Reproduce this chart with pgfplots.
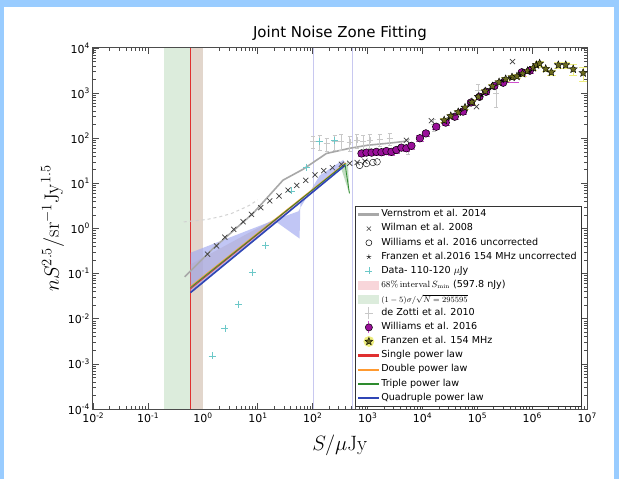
\documentclass[border=0pt]{standalone}
\usepackage[no-math]{fontspec}
\setmainfont{DejaVu Sans}
\usepackage{pgfplots}
\pgfplotsset{compat=1.18}
\definecolor{bgblue}{HTML}{99CCFF}
\definecolor{bandgreen}{HTML}{DCECDC}
\definecolor{bandtan}{HTML}{E2D6CC}
\definecolor{bandpink}{HTML}{F8D6DA}
\definecolor{lav}{HTML}{C8C8F0}
\definecolor{vgray}{HTML}{A8A8A8}
\definecolor{cyanpt}{HTML}{6CC8C8}
\definecolor{zgray}{HTML}{C8C8C8}
\definecolor{wpurp}{HTML}{9A109A}
\definecolor{wmag}{HTML}{D050D0}
\definecolor{folive}{HTML}{6B6B1E}
\definecolor{fyel}{HTML}{EEEE80}
\definecolor{plred}{HTML}{E03030}
\definecolor{plorange}{HTML}{FF9A30}
\definecolor{plgreen}{HTML}{2E8B2E}
\definecolor{plblue}{HTML}{2F45B5}
\definecolor{fillblue}{HTML}{A0A8F0}
\pgfdeclareplotmark{fstar}{%
  \pgfpathmoveto{\pgfpointpolar{90}{\pgfplotmarksize}}%
  \pgfpathlineto{\pgfpointpolar{126}{0.45\pgfplotmarksize}}%
  \pgfpathlineto{\pgfpointpolar{162}{\pgfplotmarksize}}%
  \pgfpathlineto{\pgfpointpolar{198}{0.45\pgfplotmarksize}}%
  \pgfpathlineto{\pgfpointpolar{234}{\pgfplotmarksize}}%
  \pgfpathlineto{\pgfpointpolar{270}{0.45\pgfplotmarksize}}%
  \pgfpathlineto{\pgfpointpolar{306}{\pgfplotmarksize}}%
  \pgfpathlineto{\pgfpointpolar{342}{0.45\pgfplotmarksize}}%
  \pgfpathlineto{\pgfpointpolar{18}{\pgfplotmarksize}}%
  \pgfpathlineto{\pgfpointpolar{54}{0.45\pgfplotmarksize}}%
  \pgfpathclose\pgfusepathqfillstroke}
\newcommand\tl[1]{10\raisebox{0.8ex}{\fontsize{7.5}{8}\selectfont #1}}
\begin{document}
\begin{tikzpicture}
\useasboundingbox (0,0) rectangle (619pt,479pt);
\fill[bgblue] (0,0) rectangle (619pt,479pt);
\fill[white] (4pt,0pt) rectangle (614pt,472pt);
\begin{axis}[
  at={(93pt,70pt)}, anchor=south west,
  scale only axis, width=494pt, height=361pt,
  xmode=log, ymode=log,
  xmin=1e-2, xmax=1e7, ymin=1e-4, ymax=1e4,
  xtick={1e-2,1e-1,1,10,100,1e3,1e4,1e5,1e6,1e7},
  xticklabels={\tl{-2},\tl{-1},\tl{0},\tl{1},\tl{2},\tl{3},\tl{4},\tl{5},\tl{6},\tl{7}},
  ytick={1e-4,1e-3,1e-2,1e-1,1,10,100,1e3,1e4},
  yticklabels={\tl{-4},\tl{-3},\tl{-2},\tl{-1},\tl{0},\tl{1},\tl{2},\tl{3},\tl{4}},
  tick label style={font=\fontsize{11}{13}\selectfont, black},
  tick align=inside,
  major tick length=6pt, minor tick length=3pt,
  every tick/.style={black!70, line width=0.6pt},
  axis line style={black!70, line width=1pt},
  title={Joint Noise Zone Fitting},
  title style={font=\fontsize{15}{17}\selectfont, yshift=-2pt},
  xlabel={$S/\mu\mathrm{Jy}$},
  ylabel={$nS^{2.5}/\mathrm{sr}^{-1}\mathrm{Jy}^{1.5}$},
  label style={font=\fontsize{20}{24}\selectfont},
  xlabel style={yshift=-5pt},
  ylabel style={yshift=-3pt},
  legend style={at={(0.99,0.006)}, anchor=south east,
    font=\fontsize{9.6}{11.5}\selectfont, draw=black!80, line width=0.8pt,
    inner xsep=3pt, inner ysep=1.5pt, row sep=0pt, fill=white,
    nodes={text height=7.3pt, text depth=2.8pt},
    cells={anchor=west}},
  legend image code/.code={\draw[#1] (0pt,0pt) -- (20pt,0pt);},
]
% bands
\addplot[draw=none, fill=bandgreen, forget plot] coordinates {(0.2,1e-4)(0.5978,1e-4)(0.5978,1e4)(0.2,1e4)} -- cycle;
\addplot[draw=none, fill=bandtan, forget plot] coordinates {(0.5978,1e-4)(1.0,1e-4)(1.0,1e4)(0.5978,1e4)} -- cycle;
\addplot[lav, line width=0.8pt, forget plot] coordinates {(105,1e-4)(105,1e4)};
\addplot[lav, line width=0.8pt, forget plot] coordinates {(540,1e-4)(540,1e4)};
\addplot[plred, line width=0.8pt, forget plot] coordinates {(0.5978,1e-4)(0.5978,1e4)};
% fills
\addplot[draw=none, fill=orange!40!gray!60, fill opacity=0.5, forget plot] coordinates {(0.5978,0.04)(0.5978,0.16)(30,2.1)(390,27)(30,1.9)} -- cycle;
\addplot[draw=none, fill=fillblue, fill opacity=0.65, forget plot] coordinates {(0.5978,0.038)(0.5978,0.29)(25,1.7)(55,2.4)(135,15)(360,33)(400,28)(390,25)(60,3.6)(58,0.6)(22,1.39)} -- cycle;
\addplot[draw=none, fill=plgreen!50, fill opacity=0.6, forget plot] coordinates {(330,22)(470,5.8)(440,30)} -- cycle;
% Vernstrom
\addplot[vgray, line width=1.6pt, forget plot] coordinates {(0.47,0.085)(1.54,0.36)(8.2,2.15)(29,11.8)(67,20.5)(179,46)(476,60)(1000,70)(2500,78)(5100,86)};
\addplot[gray!35, dashed, line width=1pt, forget plot] coordinates {(0.45,1.4)(1.17,1.58)(2.04,1.82)(3.33,2.15)(5.07,2.7)(7.2,3.3)(10,4.3)};
% power laws
\addplot[plred, line width=0.8pt, forget plot] coordinates {(0.5978,0.046)(400,28)};
\addplot[plorange, line width=0.8pt, forget plot] coordinates {(0.5978,0.052)(400,28.5)};
\addplot[plgreen, line width=0.8pt, forget plot] coordinates {(0.5978,0.049)(390,27)(470,6)};
\addplot[plblue, line width=1.6pt, forget plot] coordinates {(0.5978,0.038)(390,25)};
% de Zotti
\addplot[zgray, only marks, mark=+, mark size=3pt, forget plot,
  error bars/.cd, y dir=both, y explicit, error bar style={zgray, line width=0.8pt}, error mark options={zgray, mark size=2pt, rotate=90}]
  coordinates {(102,84)+-(0,25) (134,84)+-(0,30) (180,77)+-(0,25) (253,84)+-(0,30) (336,88)+-(0,35) (476,82)+-(0,30) (640,91)+-(0,30) (830,88)+-(0,30) (1100,91)+-(0,30) (1670,95)+-(0,30) (2540,100)+-(0,30) (5530,70)+-(0,25) (16000,200)+-(0,60) (103000,1150)+-(0,400) (220000,1000)+-(0,500)};
% cyan data
\addplot[cyanpt, only marks, mark=+, mark size=3.5pt, line width=0.6pt, forget plot] coordinates {(1.48,0.0015)(2.52,0.0062)(4.47,0.021)(8.03,0.107)(14,0.43)(41,6.8)(78,23)(135,84)(253,91)};
% Wilman
\addplot[black!75, only marks, mark=x, mark size=3.6pt, line width=0.7pt, forget plot] coordinates {(1.22,0.27)(1.78,0.41)(2.52,0.64)(3.67,0.96)(5.42,1.41)(7.71,2.06)(11.4,2.9)(16.6,4.1)(24.5,5.25)(35.8,7.1)(51.5,9.0)(75.2,11.7)(111,15.4)(160,19.1)(230,22.3)(336,26.5)(476,27.9)(650,29)(900,31)(5130,90)(14600,245)(97000,500)(440000,5000)};
% Williams uncorrected
\addplot[black, only marks, mark=o, mark size=3.3pt, forget plot] coordinates {(720,25)(960,27.5)(1260,29)(1500,30)};
% Williams 2016
\addplot[only marks, mark=*, mark size=3.8pt, mark options={fill=wpurp, draw=black, line width=0.5pt}, forget plot,
  error bars/.cd, y dir=both, y explicit, error bar style={wmag, line width=1pt}]
  coordinates {(780,46)+-(0,6) (960,48)+-(0,6) (1190,48)+-(0,6) (1460,50)+-(0,7) (1800,49)+-(0,7) (2220,52)+-(0,7) (2740,50)+-(0,7) (3370,55)+-(0,8) (4160,62)+-(0,9) (5130,60)+-(0,9) (6330,68)+-(0,10) (9030,100)+-(0,15) (11600,128)+-(0,18) (17900,180)+-(0,25) (26700,222)+-(0,30) (39000,300)+-(0,40) (55300,390)+-(0,50) (77100,620)+-(0,80) (110000,830)+-(0,100) (145000,1070)+-(0,130) (205000,1440)+-(0,170) (650000,2900)+-(0,350) (910000,3150)+-(0,400)};
\addplot[only marks, mark=*, mark size=3.8pt, mark options={fill=wpurp, draw=black, line width=0.5pt}, forget plot,
  error bars/.cd, x dir=plus, x explicit, error bar style={wmag, line width=1.2pt}, error mark=none]
  coordinates {(297000,1700)+-(290000,0)};
% Franzen
\addplot[only marks, mark=fstar, mark size=4.2pt, mark options={fill=folive, draw=black, line width=0.4pt}, forget plot,
  error bars/.cd, y dir=both, y explicit, error bar style={fyel, line width=1.2pt}]
  coordinates {(25000,250)+-(0,25) (33000,310)+-(0,30) (45000,380)+-(0,35) (60000,480)+-(0,45) (80000,630)+-(0,60) (105000,830)+-(0,80) (140000,1100)+-(0,100) (190000,1420)+-(0,130) (250000,1750)+-(0,160) (330000,2050)+-(0,200) (430000,2250)+-(0,220) (530000,2350)+-(0,240) (670000,2700)+-(0,280) (830000,3100)+-(0,320) (1050000,3650)+-(0,400) (1200000,4200)+-(0,450) (1370000,4550)+-(0,500) (1770000,3450)+-(0,400) (2240000,2900)+-(0,400) (3000000,4200)+-(0,600) (4100000,4200)+-(0,700) (5600000,3400)+-(0,900) (8500000,2800)+-(0,1000)};
% Franzen uncorrected
\addplot[black, only marks, mark=star, mark size=2pt, line width=0.4pt, forget plot] coordinates {(30000,280)(50000,420)(70000,560)(120000,900)(170000,1250)(280000,1900)(400000,2150)(600000,2500)(900000,3000)};
% legend
\addlegendimage{legend image code/.code={\fill[vgray] (0pt,-0.9pt) rectangle (20pt,0.9pt);}}
\addlegendentry{Vernstrom et al. 2014}
\addlegendimage{legend image code/.code={\draw[black!75, line width=0.6pt] plot[mark=x, mark size=3pt] coordinates {(10pt,0pt)};}}
\addlegendentry{Wilman et al. 2008}
\addlegendimage{legend image code/.code={\draw[black, line width=0.5pt] plot[mark=o, mark size=3pt] coordinates {(10pt,0pt)};}}
\addlegendentry{Williams et al. 2016 uncorrected}
\addlegendimage{legend image code/.code={\draw[black, line width=0.4pt] plot[mark=star, mark size=2.5pt] coordinates {(10pt,0pt)};}}
\addlegendentry{Franzen et al.2016 154 MHz uncorrected}
\addlegendimage{legend image code/.code={\draw[cyanpt, line width=0.6pt] plot[mark=+, mark size=3.5pt] coordinates {(10pt,0pt)};}}
\addlegendentry{Data- 110-120 $\mu$Jy}
\addlegendimage{legend image code/.code={\fill[bandpink] (0pt,-4pt) rectangle (20pt,4pt);}}
\addlegendentry{{\fontsize{8.6}{10}\selectfont$68\%\,\mathrm{interval}\,S_{\min}$} (597.8 nJy)}
\addlegendimage{legend image code/.code={\fill[bandgreen] (0pt,-4pt) rectangle (20pt,4pt);}}
\addlegendentry{\raisebox{-0.8pt}[6pt][2pt]{\fontsize{7.8}{9}\selectfont$(1-5)\sigma/\sqrt{N=295595}$}}
\addlegendimage{legend image code/.code={\draw[zgray, line width=0.8pt] (10pt,-6pt)--(10pt,6pt) (6pt,0pt)--(14pt,0pt);}}
\addlegendentry{de Zotti et al. 2010}
\addlegendimage{legend image code/.code={\draw[wmag, line width=1pt] (10pt,-6pt)--(10pt,6pt); \draw[black, fill=wpurp, line width=0.5pt] plot[mark=*, mark size=3.6pt] coordinates {(10pt,0pt)};}}
\addlegendentry{Williams et al. 2016}
\addlegendimage{legend image code/.code={\fill[fyel] (10pt,0pt) circle (5pt); \draw[black, fill=folive, line width=0.4pt] plot[mark=fstar, mark size=4pt] coordinates {(10pt,0pt)};}}
\addlegendentry{Franzen et al. 154 MHz}
\addlegendimage{legend image code/.code={\fill[plred] (0pt,-0.7pt) rectangle (20pt,0.7pt);}}
\addlegendentry{Single power law}
\addlegendimage{legend image code/.code={\fill[plorange] (0pt,-0.7pt) rectangle (20pt,0.7pt);}}
\addlegendentry{Double power law}
\addlegendimage{legend image code/.code={\fill[plgreen] (0pt,-0.7pt) rectangle (20pt,0.7pt);}}
\addlegendentry{Triple power law}
\addlegendimage{legend image code/.code={\fill[plblue] (0pt,-0.9pt) rectangle (20pt,0.9pt);}}
\addlegendentry{Quadruple power law}
\end{axis}
\end{tikzpicture}
\end{document}
